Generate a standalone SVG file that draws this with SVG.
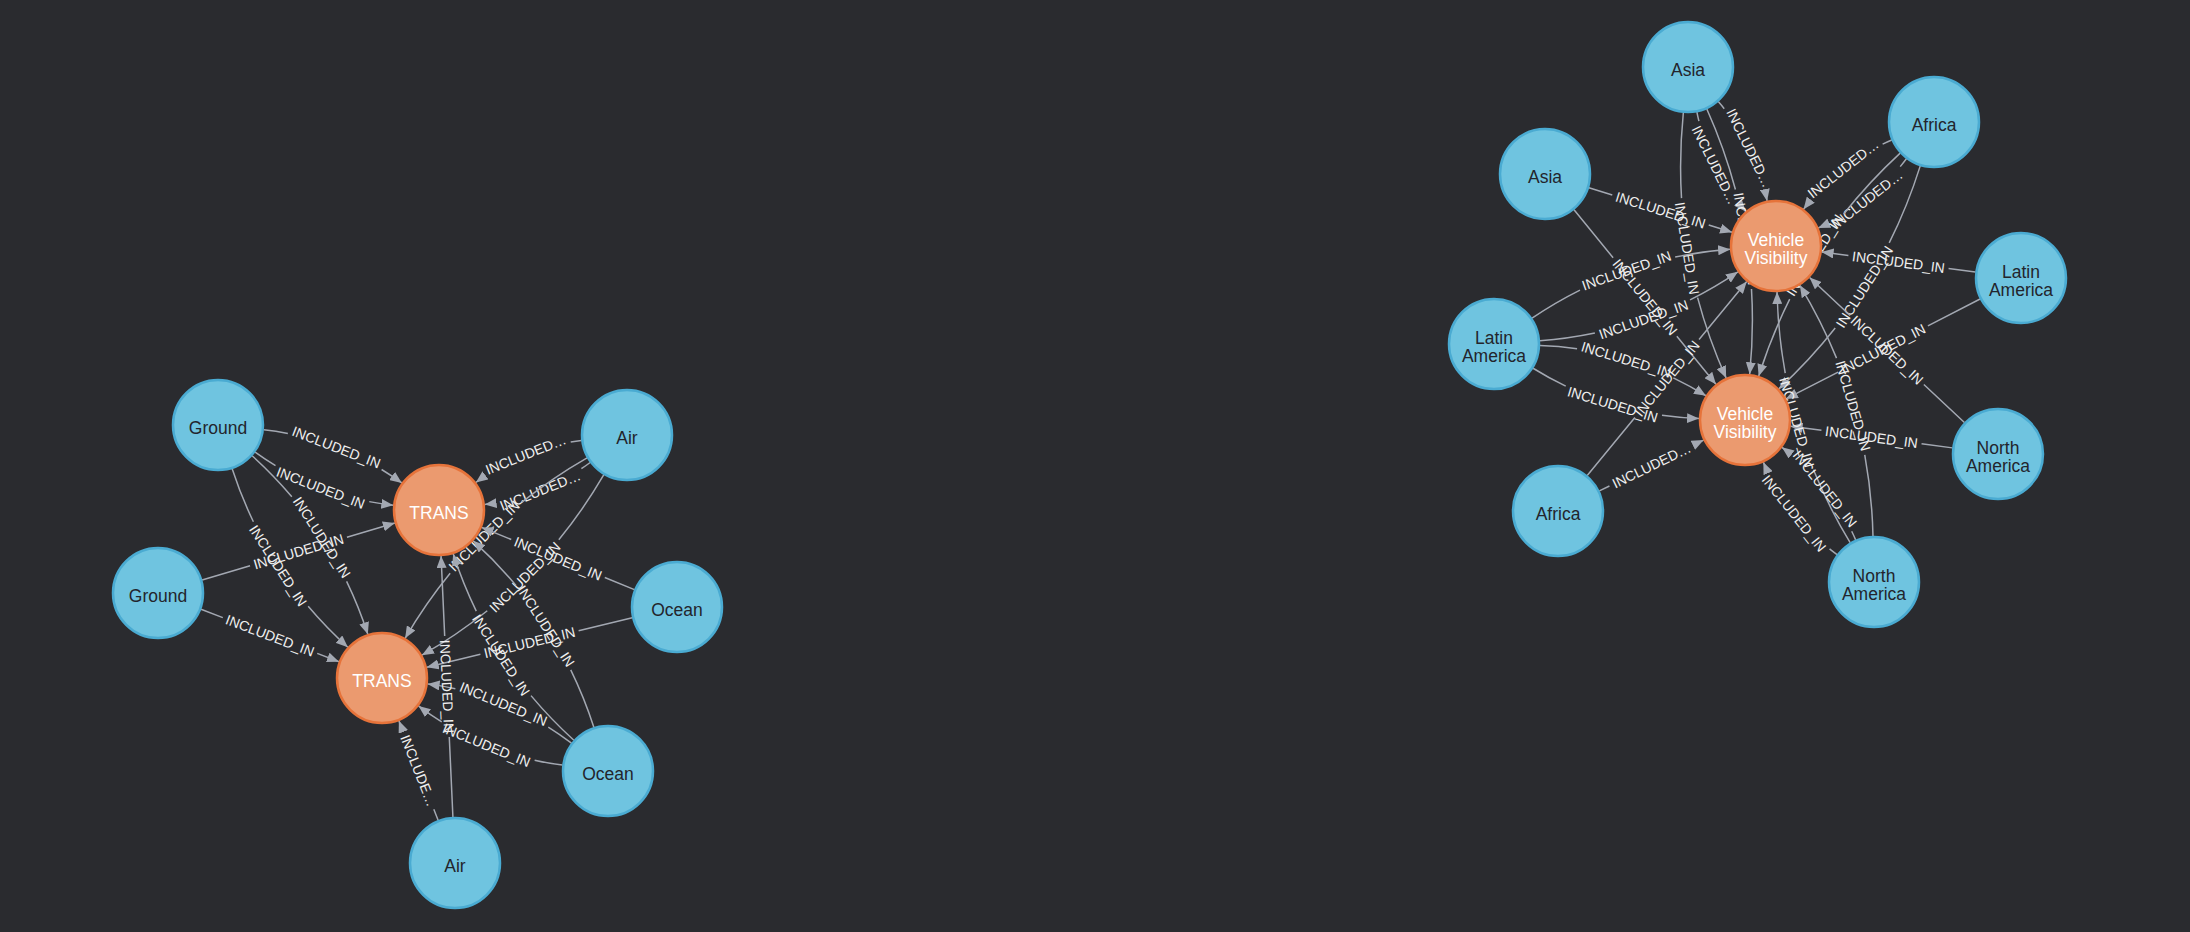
<svg xmlns="http://www.w3.org/2000/svg" width="2190" height="932" viewBox="0 0 2190 932">
<style>
.e path{fill:none;stroke:#a3a8b2;stroke-width:1.5;marker-end:url(#arr)}
.e text{font-family:"Liberation Sans",Arial,sans-serif;font-size:14px;fill:#f0f0f0;text-anchor:middle;dominant-baseline:central}
.nb circle{fill:#6fc4e0;stroke:#4aabd2;stroke-width:2.5}
.no circle{fill:#eb9a6f;stroke:#e6733a;stroke-width:2.5}
.nb text,.no text{font-family:"Liberation Sans",Arial,sans-serif;font-size:17.5px;text-anchor:middle}
.nb text{fill:#23252c}
.no text{fill:#ffffff}
</style>
<defs>
<marker id="arr" viewBox="0 0 12 10" refX="12" refY="5" markerWidth="12" markerHeight="10" markerUnits="userSpaceOnUse" orient="auto"><path d="M0 0L12 5L0 10Z" fill="#a3a8b2"/></marker>
</defs>
<rect width="2190" height="932" fill="#2a2b2f"/>
<g id="edges" class="e">
<!-- left cluster -->
<g id="e-g1-t1-a" transform="translate(218 425) rotate(21.04)"><path d="M44.4 11.9Q118.4 31.6 192.4 11.9" stroke-dasharray="24.4 101 999"/><text x="118.4" y="21.75">INCLUDED_IN</text></g>
<g id="e-g1-t1-b" transform="translate(218 425) rotate(21.04)"><path d="M44.4 -11.9Q118.4 -31.6 192.4 -11.9" stroke-dasharray="24.4 101 999"/><text x="118.4" y="-21.75">INCLUDED_IN</text></g>
<g id="e-g1-t2-a" transform="translate(218 425) rotate(57.05)"><path d="M44.4 11.9Q150.75 40.25 257.1 11.9" stroke-dasharray="57.1 101 999"/><text x="150.75" y="26.06">INCLUDED_IN</text></g>
<g id="e-g1-t2-b" transform="translate(218 425) rotate(57.05)"><path d="M44.4 -11.9Q150.75 -40.25 257.1 -11.9" stroke-dasharray="57.1 101 999"/><text x="150.75" y="-26.06">INCLUDED_IN</text></g>
<g id="e-g2-t1" transform="translate(158 593) rotate(-16.46)"><path d="M46 0L247 0" stroke-dasharray="50 101 999"/><text x="146.5" y="0">INCLUDED_IN</text></g>
<g id="e-g2-t2" transform="translate(158 593) rotate(20.78)"><path d="M46 0L193.6 0" stroke-dasharray="23.3 101 999"/><text x="119.8" y="0">INCLUDED_IN</text></g>
<g id="e-a1-t1-a" transform="translate(627 435) rotate(158.25)"><path d="M44.4 11.9Q101.2 27.02 158 11.9" stroke-dasharray="10.65 93.6 999"/><text x="101.2" y="19.45" transform="rotate(180 101.2 19.45)">INCLUDED…</text></g>
<g id="e-a1-t1-b" transform="translate(627 435) rotate(158.25)"><path d="M44.4 -11.9Q101.2 -27.02 158 -11.9" stroke-dasharray="10.65 93.6 999"/><text x="101.2" y="-19.45" transform="rotate(180 101.2 -19.45)">INCLUDED…</text></g>
<g id="e-a1-t2-a" transform="translate(627 435) rotate(135.23)"><path d="M44.4 11.9Q172.55 46.07 300.7 11.9" stroke-dasharray="79.15 101 999"/><text x="172.55" y="28.97" transform="rotate(180 172.55 28.97)">INCLUDED_IN</text></g>
<g id="e-a1-t2-b" transform="translate(627 435) rotate(135.23)"><path d="M44.4 -11.9Q172.55 -46.07 300.7 -11.9" stroke-dasharray="79.15 101 999"/><text x="172.55" y="-28.97" transform="rotate(180 172.55 -28.97)">INCLUDED_IN</text></g>
<g id="e-o1-t1" transform="translate(677 607) rotate(-157.83)"><path d="M46 0L211 0" stroke-dasharray="32 101 999"/><text x="128.5" y="0" transform="rotate(180 128.5 0)">INCLUDED_IN</text></g>
<g id="e-o1-t2" transform="translate(677 607) rotate(166.47)"><path d="M46 0L257.4 0" stroke-dasharray="55.2 101 999"/><text x="151.7" y="0" transform="rotate(180 151.7 0)">INCLUDED_IN</text></g>
<g id="e-o2-t1-a" transform="translate(608 771) rotate(-122.92)"><path d="M44.4 11.9Q155.45 41.5 266.5 11.9" stroke-dasharray="61.85 101 999"/><text x="155.45" y="26.69" transform="rotate(180 155.45 26.69)">INCLUDED_IN</text></g>
<g id="e-o2-t1-b" transform="translate(608 771) rotate(-122.92)"><path d="M44.4 -11.9Q155.45 -41.5 266.5 -11.9" stroke-dasharray="61.85 101 999"/><text x="155.45" y="-26.69" transform="rotate(180 155.45 -26.69)">INCLUDED_IN</text></g>
<g id="e-o2-t2-a" transform="translate(608 771) rotate(-157.63)"><path d="M44.4 11.9Q122.2 32.63 200 11.9" stroke-dasharray="28.2 101 999"/><text x="122.2" y="22.25" transform="rotate(180 122.2 22.25)">INCLUDED_IN</text></g>
<g id="e-o2-t2-b" transform="translate(608 771) rotate(-157.63)"><path d="M44.4 -11.9Q122.2 -32.63 200 -11.9" stroke-dasharray="28.2 101 999"/><text x="122.2" y="-22.25" transform="rotate(180 122.2 -22.25)">INCLUDED_IN</text></g>
<g id="e-a2-t1" transform="translate(455 863) rotate(-92.6)"><path d="M46 0L307.4 0" stroke-dasharray="80.2 101 999"/><text x="176.7" y="0" transform="rotate(180 176.7 0)">INCLUDED_IN</text></g>
<g id="e-a2-t2" transform="translate(455 863) rotate(-111.53)"><path d="M46 0L152.9 0" stroke-dasharray="11.75 83.4 999"/><text x="99.45" y="0" transform="rotate(180 99.45 0)">INCLUDE…</text></g>
<!-- right cluster -->
<g id="e-as1-v1-a" transform="translate(1688 67) rotate(63.82)"><path d="M44.4 11.9Q99.75 26.63 155.1 11.9" stroke-dasharray="9.2 93.6 999"/><text x="99.75" y="19.26">INCLUDED…</text></g>
<g id="e-as1-v1-b" transform="translate(1688 67) rotate(63.82)"><path d="M44.4 -11.9Q99.75 -26.63 155.1 -11.9" stroke-dasharray="9.2 93.6 999"/><text x="99.75" y="-19.26">INCLUDED…</text></g>
<g id="e-as1-v2-a" transform="translate(1688 67) rotate(80.83)"><path d="M44.4 11.9Q178.8 47.74 313.2 11.9" stroke-dasharray="85.5 101 999"/><text x="178.8" y="29.8">INCLUDED_IN</text></g>
<g id="e-as1-v2-b" transform="translate(1688 67) rotate(80.83)"><path d="M44.4 -11.9Q178.8 -47.74 313.2 -11.9" stroke-dasharray="85.5 101 999"/><text x="178.8" y="-29.8">INCLUDED_IN</text></g>
<g id="e-as2-v1" transform="translate(1545 174) rotate(17.31)"><path d="M46 0L195.96 0" stroke-dasharray="24.48 101 999"/><text x="120.98" y="0">INCLUDED_IN</text></g>
<g id="e-as2-v2" transform="translate(1545 174) rotate(50.89)"><path d="M46 0L271 0" stroke-dasharray="62 101 999"/><text x="158.5" y="0">INCLUDED_IN</text></g>
<g id="e-af1-v1-a" transform="translate(1934 122) rotate(141.88)"><path d="M44.4 11.9Q100.43 26.81 156.45 11.9" stroke-dasharray="9.9 93.6 999"/><text x="100.43" y="19.35" transform="rotate(180 100.43 19.35)">INCLUDED…</text></g>
<g id="e-af1-v1-b" transform="translate(1934 122) rotate(141.88)"><path d="M44.4 -11.9Q100.43 -26.81 156.45 -11.9" stroke-dasharray="9.9 93.6 999"/><text x="100.43" y="-19.35" transform="rotate(180 100.43 -19.35)">INCLUDED…</text></g>
<g id="e-af1-v2-a" transform="translate(1934 122) rotate(122.39)"><path d="M44.4 11.9Q176.45 47.11 308.5 11.9" stroke-dasharray="83.1 101 999"/><text x="176.45" y="29.49" transform="rotate(180 176.45 29.49)">INCLUDED_IN</text></g>
<g id="e-af1-v2-b" transform="translate(1934 122) rotate(122.39)"><path d="M44.4 -11.9Q176.45 -47.11 308.5 -11.9" stroke-dasharray="83.1 101 999"/><text x="176.45" y="-29.49" transform="rotate(180 176.45 -29.49)">INCLUDED_IN</text></g>
<g id="e-la1-v1" transform="translate(2021 278) rotate(-172.56)"><path d="M46 0L201.1 0" stroke-dasharray="27.05 101 999"/><text x="123.55" y="0" transform="rotate(180 123.55 0)">INCLUDED_IN</text></g>
<g id="e-la1-v2" transform="translate(2021 278) rotate(152.78)"><path d="M46 0L264.4 0" stroke-dasharray="58.7 101 999"/><text x="155.2" y="0" transform="rotate(180 155.2 0)">INCLUDED_IN</text></g>
<g id="e-la2-v1-a" transform="translate(1494 344) rotate(-19.16)"><path d="M44.4 11.9Q149.25 39.85 254.1 11.9" stroke-dasharray="55.6 101 999"/><text x="149.25" y="25.86">INCLUDED_IN</text></g>
<g id="e-la2-v1-b" transform="translate(1494 344) rotate(-19.16)"><path d="M44.4 -11.9Q149.25 -39.85 254.1 -11.9" stroke-dasharray="55.6 101 999"/><text x="149.25" y="-25.86">INCLUDED_IN</text></g>
<g id="e-la2-v2-a" transform="translate(1494 344) rotate(16.85)"><path d="M44.4 11.9Q131.1 35.01 217.85 11.9" stroke-dasharray="37.25 101 999"/><text x="131.1" y="23.44">INCLUDED_IN</text></g>
<g id="e-la2-v2-b" transform="translate(1494 344) rotate(16.85)"><path d="M44.4 -11.9Q131.1 -35.01 217.85 -11.9" stroke-dasharray="37.25 101 999"/><text x="131.1" y="-23.44">INCLUDED_IN</text></g>
<g id="e-af2-v1" transform="translate(1558 511) rotate(-50.56)"><path d="M46 0L297.1 0" stroke-dasharray="75.05 101 999"/><text x="171.55" y="0">INCLUDED_IN</text></g>
<g id="e-af2-v2" transform="translate(1558 511) rotate(-25.95)"><path d="M46 0L162 0" stroke-dasharray="11.2 93.6 999"/><text x="104" y="0">INCLUDED…</text></g>
<g id="e-na1-v1" transform="translate(1998 454) rotate(-136.87)"><path d="M46 0L258.2 0" stroke-dasharray="55.6 101 999"/><text x="152.1" y="0" transform="rotate(180 152.1 0)">INCLUDED_IN</text></g>
<g id="e-na1-v2" transform="translate(1998 454) rotate(-172.35)"><path d="M46 0L209.3 0" stroke-dasharray="31.15 101 999"/><text x="127.65" y="0" transform="rotate(180 127.65 0)">INCLUDED_IN</text></g>
<g id="e-na2-v1-a" transform="translate(1874 582) rotate(-106.26)"><path d="M44.4 11.9Q175 46.73 305.6 11.9" stroke-dasharray="81.65 101 999"/><text x="175" y="29.3" transform="rotate(180 175 29.3)">INCLUDED_IN</text></g>
<g id="e-na2-v1-b" transform="translate(1874 582) rotate(-106.26)"><path d="M44.4 -11.9Q175 -46.73 305.6 -11.9" stroke-dasharray="81.65 101 999"/><text x="175" y="-29.3" transform="rotate(180 175 -29.3)">INCLUDED_IN</text></g>
<g id="e-na2-v2-a" transform="translate(1874 582) rotate(-128.53)"><path d="M44.4 11.9Q103.55 27.65 162.7 11.9" stroke-dasharray="9.35 101 999"/><text x="103.55" y="19.76" transform="rotate(180 103.55 19.76)">INCLUDED_IN</text></g>
<g id="e-na2-v2-b" transform="translate(1874 582) rotate(-128.53)"><path d="M44.4 -11.9Q103.55 -27.65 162.7 -11.9" stroke-dasharray="9.35 101 999"/><text x="103.55" y="-19.76" transform="rotate(180 103.55 -19.76)">INCLUDED_IN</text></g>
</g>
<g id="nodes">
<g id="n-ground-1" class="nb"><circle cx="218" cy="425" r="45"/><text x="218" y="434">Ground</text></g>
<g id="n-ground-2" class="nb"><circle cx="158" cy="593" r="45"/><text x="158" y="602">Ground</text></g>
<g id="n-air-1" class="nb"><circle cx="627" cy="435" r="45"/><text x="627" y="444">Air</text></g>
<g id="n-ocean-1" class="nb"><circle cx="677" cy="607" r="45"/><text x="677" y="616">Ocean</text></g>
<g id="n-ocean-2" class="nb"><circle cx="608" cy="771" r="45"/><text x="608" y="780">Ocean</text></g>
<g id="n-air-2" class="nb"><circle cx="455" cy="863" r="45"/><text x="455" y="872">Air</text></g>
<g id="n-trans-1" class="no"><circle cx="439" cy="510" r="45"/><text x="439" y="519">TRANS</text></g>
<g id="n-trans-2" class="no"><circle cx="382" cy="678" r="45"/><text x="382" y="687">TRANS</text></g>
<g id="n-asia-1" class="nb"><circle cx="1688" cy="67" r="45"/><text x="1688" y="76">Asia</text></g>
<g id="n-asia-2" class="nb"><circle cx="1545" cy="174" r="45"/><text x="1545" y="183">Asia</text></g>
<g id="n-africa-1" class="nb"><circle cx="1934" cy="122" r="45"/><text x="1934" y="131">Africa</text></g>
<g id="n-latam-1" class="nb"><circle cx="2021" cy="278" r="45"/><text x="2021" y="278">Latin</text><text x="2021" y="296">America</text></g>
<g id="n-latam-2" class="nb"><circle cx="1494" cy="344" r="45"/><text x="1494" y="344">Latin</text><text x="1494" y="362">America</text></g>
<g id="n-africa-2" class="nb"><circle cx="1558" cy="511" r="45"/><text x="1558" y="520">Africa</text></g>
<g id="n-noram-1" class="nb"><circle cx="1998" cy="454" r="45"/><text x="1998" y="454">North</text><text x="1998" y="472">America</text></g>
<g id="n-noram-2" class="nb"><circle cx="1874" cy="582" r="45"/><text x="1874" y="582">North</text><text x="1874" y="600">America</text></g>
<g id="n-vv-1" class="no"><circle cx="1776" cy="246" r="45"/><text x="1776" y="246">Vehicle</text><text x="1776" y="264">Visibility</text></g>
<g id="n-vv-2" class="no"><circle cx="1745" cy="420" r="45"/><text x="1745" y="420">Vehicle</text><text x="1745" y="438">Visibility</text></g>
</g>
</svg>
